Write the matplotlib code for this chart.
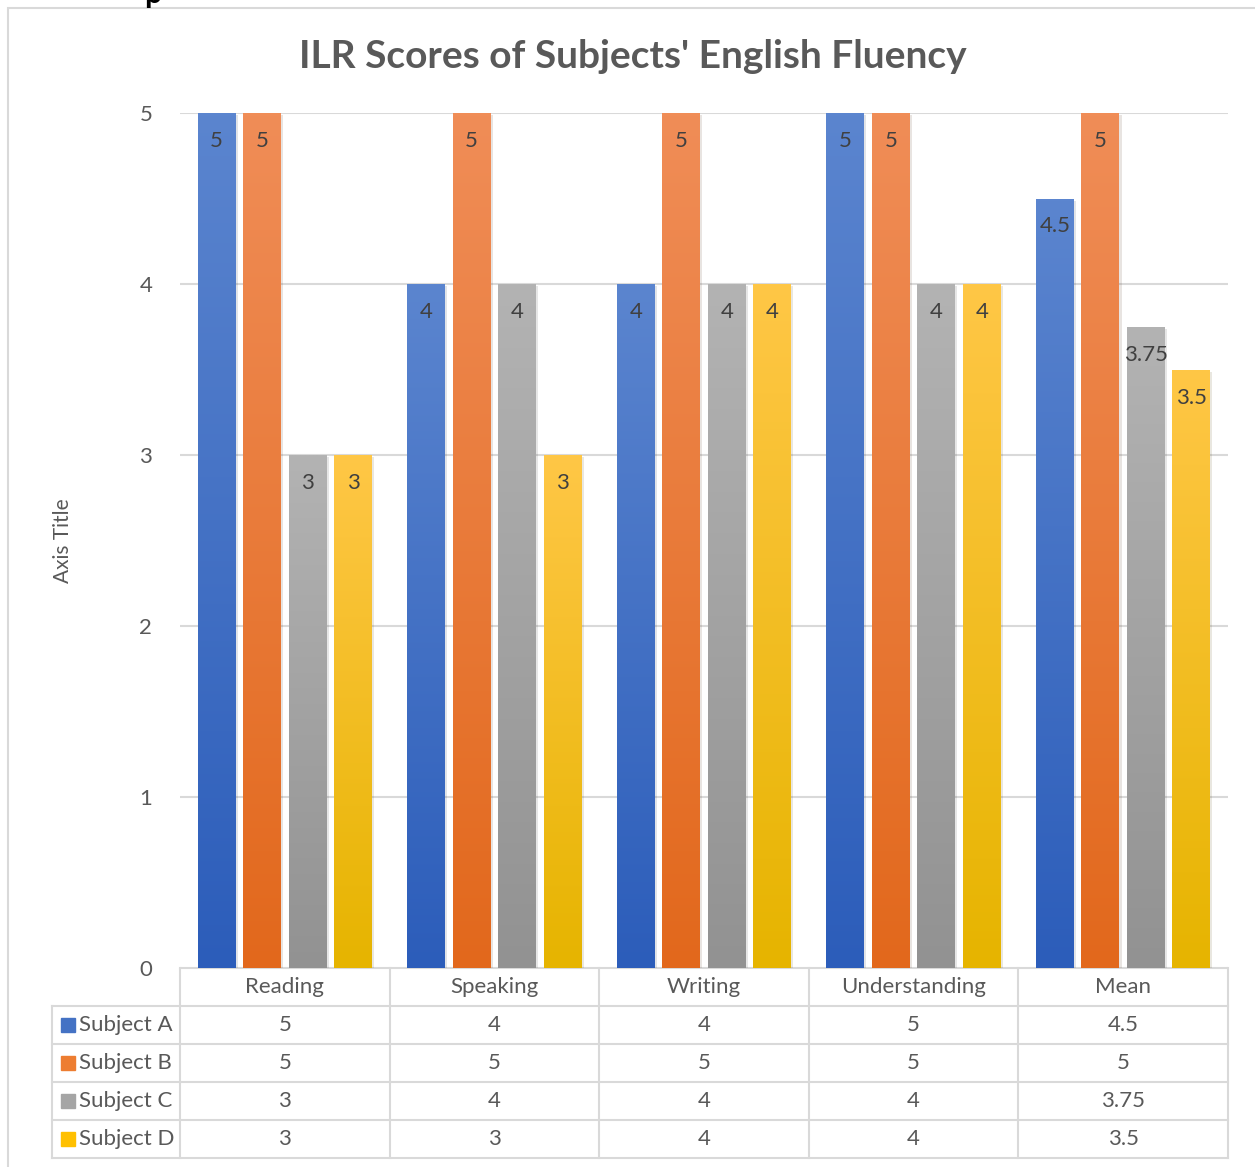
import matplotlib
matplotlib.use("Agg")
import matplotlib.pyplot as plt
import matplotlib.patheffects as pe
from matplotlib.colors import LinearSegmentedColormap
import numpy as np

# data
categories = ["Reading", "Speaking", "Writing", "Understanding", "Mean"]
subjects = ["Subject A", "Subject B", "Subject C", "Subject D"]
subject_a = [5, 4, 4, 5, 4.5]
subject_b = [5, 5, 5, 5, 5]
subject_c = [3, 4, 4, 4, 3.75]
subject_d = [3, 3, 4, 4, 3.5]
series = [subject_a, subject_b, subject_c, subject_d]

# gradient colours (top, bottom) and key colour per series
grads = [("#5B85CF", "#2C5DBA"), ("#F08D57", "#E2681C"),
         ("#B3B3B3", "#929292"), ("#FFC746", "#E6B400")]
keys = ["#4472C4", "#ED7D31", "#A5A5A5", "#FFC000"]

plt.rcParams["font.family"] = ["Lato", "DejaVu Sans"]
W, H = 1255, 1167
fig = plt.figure(figsize=(W / 100, H / 100), dpi=100, facecolor="white")

def fx(px):
    return px / W

def fy(py):
    return 1 - py / H

grid_c = "#D9D9D9"
txt_c = "#595959"

# chart border
fig.patches.append(plt.Rectangle((fx(8), fy(1200)), fx(1300), fy(8) - fy(1200),
                                 transform=fig.transFigure, fill=False,
                                 edgecolor=grid_c, lw=1.5))
fig.text(fx(153), fy(3), "p", fontsize=22, color="black", ha="center",
         va="baseline", fontweight="bold")

# main axes
x0, x1, ytop, ybot = 180, 1228, 113, 968
ax = fig.add_axes([fx(x0), fy(ybot), fx(x1 - x0), fy(ytop) - fy(ybot)])
ax.set_xlim(-0.5, len(categories) - 0.5)
ax.set_ylim(0, 5)
for s in ax.spines.values():
    s.set_visible(False)
ax.set_xticks([])
ax.set_yticks(range(6))
ax.set_yticklabels([str(i) for i in range(6)], fontsize=16, color=txt_c)
ax.tick_params(axis="y", length=0, pad=20)
ax.yaxis.grid(True, color=grid_c, lw=1.5)
ax.set_axisbelow(True)
ax.set_ylabel("Axis Title", fontsize=15, color=txt_c, labelpad=48)

bw = 0.181
step = 0.217
x = np.arange(len(categories))
for i, vals in enumerate(series):
    pos = x + (i - 1.5) * step
    bars = ax.bar(pos, vals, width=bw, color=keys[i], zorder=2,
                  path_effects=[pe.SimplePatchShadow(offset=(1.5, -1.5), alpha=0.12),
                                pe.Normal()])
    cmap = LinearSegmentedColormap.from_list("g", [grads[i][1], grads[i][0]])
    grad = np.linspace(0, 1, 256).reshape(-1, 1)
    for b, v in zip(bars, vals):
        im = ax.imshow(grad, cmap=cmap, origin="lower", aspect="auto",
                       extent=(b.get_x(), b.get_x() + b.get_width(), 0, v),
                       zorder=3)
        im.set_clip_path(b)
        ax.annotate(f"{v:g}", (b.get_x() + b.get_width() / 2, v),
                    xytext=(0, -28), textcoords="offset pixels",
                    ha="center", va="center", fontsize=16, color="#404040",
                    zorder=4)
ax.set_xlim(-0.5, len(categories) - 0.5)
ax.set_ylim(0, 5)

# data table
tl = 52
tb = 1158
tax = fig.add_axes([fx(tl), fy(tb), fx(x1 - tl), fy(ybot) - fy(tb)])
cat_px = (x1 - x0) / len(categories)
left = -0.5 - (x0 - tl) / cat_px
tax.set_xlim(left, len(categories) - 0.5)
tax.set_ylim(len(subjects) + 1, 0)
tax.axis("off")
lw = 1.5
tax.plot([-0.5, len(categories) - 0.5], [0, 0], color=grid_c, lw=lw)
for r in range(1, len(subjects) + 2):
    tax.plot([left, len(categories) - 0.5], [r, r], color=grid_c, lw=lw,
             clip_on=False)
for c in range(len(categories) + 1):
    tax.plot([c - 0.5, c - 0.5], [0, len(subjects) + 1], color=grid_c, lw=lw,
             clip_on=False)
tax.plot([left, left], [1, len(subjects) + 1], color=grid_c, lw=lw,
         clip_on=False)
for c, cat in enumerate(categories):
    tax.text(c, 0.5, cat, ha="center", va="center", fontsize=16, color=txt_c)
for r, (name, vals) in enumerate(zip(subjects, series)):
    yy = r + 1.5
    tax.plot([left + 0.075], [yy], marker="s", markersize=10, color=keys[r],
             clip_on=False)
    tax.text(left + 0.13, yy, name, ha="left", va="center", fontsize=16,
             color=txt_c)
    for c, v in enumerate(vals):
        tax.text(c, yy, f"{v:g}", ha="center", va="center", fontsize=16,
                 color=txt_c)

fig.text(fx(633), fy(56), "ILR Scores of Subjects' English Fluency",
         ha="center", va="center", fontsize=28, fontweight="bold", color=txt_c)

fig.savefig("out.png", dpi=100, facecolor="white")
